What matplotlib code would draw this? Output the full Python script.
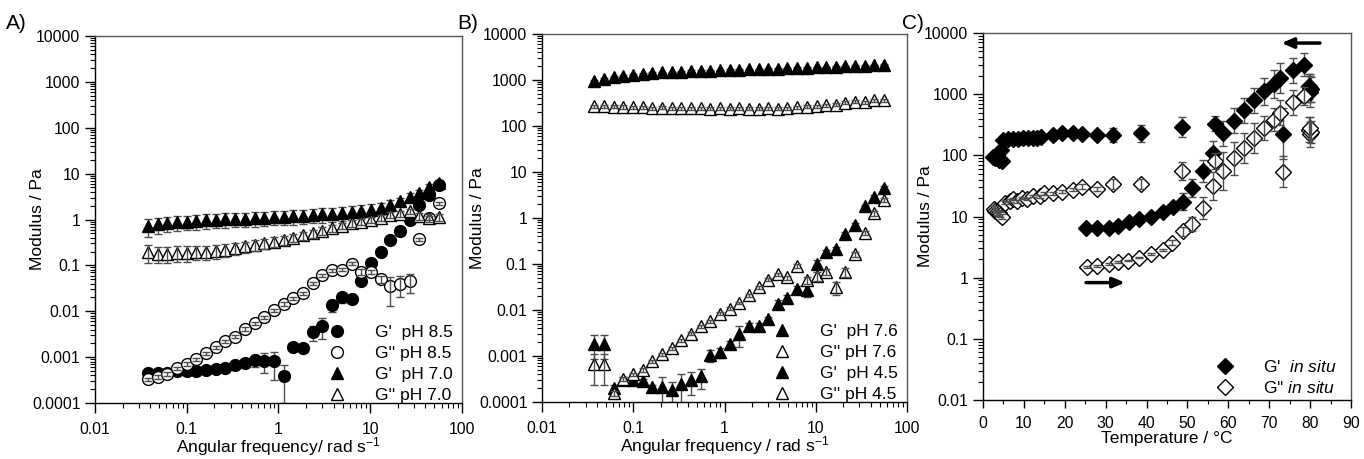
import numpy as np
import matplotlib
matplotlib.use("Agg")
import matplotlib.pyplot as plt
from matplotlib.ticker import LogLocator, FuncFormatter, NullFormatter, MultipleLocator

plt.rcParams['font.family'] = ['Liberation Sans', 'DejaVu Sans']
plt.rcParams['mathtext.fontset'] = 'custom'
plt.rcParams['mathtext.rm'] = 'Liberation Sans'
plt.rcParams['mathtext.it'] = 'Liberation Sans:italic'

# ---------------- data ----------------
freq = [0.0376, 0.048, 0.0612, 0.0781, 0.0996, 0.127, 0.162, 0.207, 0.264, 0.337, 0.429,
        0.548, 0.699, 0.892, 1.14, 1.45, 1.85, 2.36, 3.01, 3.84, 4.90, 6.25, 7.98, 10.2,
        13.0, 16.6, 21.1, 27.0, 34.4, 43.9, 56.0]

# Panel A
A_gp_85 = [4.5e-4, 4.5e-4, 4.6e-4, 4.9e-4, 5.0e-4, 5.1e-4, 5.3e-4, 5.6e-4, 5.75e-4, 6.8e-4, 7.4e-4,
           8.7e-4, 8.4e-4, 8.2e-4, 3.9e-4, 1.66e-3, 1.6e-3, 3.5e-3, 4.8e-3, 0.0138, 0.0203,
           0.0183, 0.045, 0.112, 0.20, 0.35, 0.56, 0.98, 2.1, 3.5, 5.6]
A_gp_85_err = [2e-5, 2e-5, 2e-5, 2e-5, 2e-5, 2e-5, 3e-5, 3e-5, 4e-5, 5e-5, 8e-5,
               2.5e-4, 3.8e-4, 5e-4, 2.9e-4, 2e-4, 2e-4, 1.2e-3, 2.3e-3, 4e-3, 5e-3,
               3e-3, 5e-3, 0.01, 0.015, 0.02, 0.03, 0.05, 0.1, 0.15, 0.2]
A_gpp_85 = [3.3e-4, 3.7e-4, 4.3e-4, 5.7e-4, 7.1e-4, 9.0e-4, 1.22e-3, 1.65e-3, 2.2e-3, 2.8e-3, 4.1e-3,
            5.5e-3, 7.4e-3, 0.0104, 0.0145, 0.0193, 0.0248, 0.041, 0.061, 0.079, 0.081,
            0.108, 0.073, 0.072, 0.05, 0.035, 0.04, 0.045, 0.37, 1.1, 2.26]
A_gpp_85_err = [2.5e-5, 3e-5, 3.5e-5, 4.5e-5, 6e-5, 7e-5, 1e-4, 1.3e-4, 1.8e-4, 2.2e-4, 3.3e-4,
                4.4e-4, 6e-4, 8e-4, 1.2e-3, 1.5e-3, 2e-3, 3e-3, 5e-3, 6e-3, 6e-3,
                8e-3, 0.01, 0.008, 0.008, 0.022, 0.02, 0.02, 0.03, 0.1, 0.15]
A_gp_70 = [0.72, 0.78, 0.83, 0.87, 0.90, 0.93, 0.96, 0.99, 1.01, 1.03, 1.05,
           1.08, 1.10, 1.13, 1.15, 1.18, 1.22, 1.26, 1.30, 1.35, 1.40,
           1.47, 1.55, 1.65, 1.8, 2.1, 2.5, 3.1, 3.7, 5.0, 6.3]
A_gp_70_err = [0.3, 0.3, 0.3, 0.3, 0.32, 0.33, 0.34, 0.35, 0.35, 0.36, 0.37,
               0.38, 0.38, 0.39, 0.4, 0.41, 0.42, 0.43, 0.44, 0.45, 0.46,
               0.47, 0.48, 0.5, 0.5, 0.5, 0.5, 0.6, 0.6, 0.8, 1.0]
A_gpp_70 = [0.20, 0.18, 0.18, 0.19, 0.19, 0.20, 0.20, 0.21, 0.22, 0.24, 0.26,
            0.28, 0.30, 0.33, 0.36, 0.40, 0.45, 0.50, 0.57, 0.65, 0.73,
            0.83, 0.90, 0.98, 1.1, 1.25, 1.35, 1.5, 1.2, 1.1, 1.15]
A_gpp_70_err = [0.085, 0.07, 0.07, 0.07, 0.07, 0.07, 0.07, 0.07, 0.07, 0.07, 0.07,
                0.07, 0.07, 0.08, 0.08, 0.08, 0.09, 0.1, 0.1, 0.11, 0.12,
                0.13, 0.14, 0.15, 0.16, 0.18, 0.2, 0.2, 0.2, 0.2, 0.2]

# Panel B
B_gp_76 = [930, 1050, 1160, 1230, 1300, 1360, 1410, 1460, 1480, 1510, 1560,
           1580, 1600, 1620, 1650, 1680, 1700, 1720, 1740, 1760, 1790,
           1820, 1850, 1880, 1910, 1950, 1990, 2020, 2060, 2100, 2140]
B_gp_76_err = [50, 50, 50, 50, 50, 50, 50, 50, 50, 50, 50,
               50, 50, 50, 50, 50, 50, 50, 50, 50, 50,
               50, 50, 50, 50, 50, 50, 50, 50, 50, 50]
B_gpp_76 = [270, 270, 262, 260, 258, 258, 245, 250, 245, 242, 245,
            242, 240, 242, 240, 242, 238, 240, 242, 240, 245,
            255, 265, 270, 280, 290, 320, 340, 330, 360, 365]
B_gpp_76_err = [20, 20, 20, 20, 20, 20, 20, 20, 20, 20, 20,
                20, 20, 20, 20, 20, 20, 20, 20, 20, 20,
                20, 20, 20, 20, 20, 25, 25, 25, 25, 25]
B_gp_45 = [1.85e-3, 1.85e-3, 2.04e-4, 2.95e-4, 2.95e-4, 2.9e-4, 2.1e-4, 2.15e-4, 1.85e-4, 2.5e-4, 2.95e-4,
           3.6e-4, 1.03e-3, 1.22e-3, 1.8e-3, 3.05e-3, 4.4e-3, 4.6e-3, 6.3e-3, 0.0138, 0.0178,
           0.029, 0.027, 0.102, 0.18, 0.21, 0.46, 0.72, 1.8, 2.9, 4.6]
B_gp_45_err = [1.0e-3, 1.0e-3, 3e-5, 5e-5, 5e-5, 3e-5, 3e-5, 1.3e-4, 8.5e-5, 1.6e-4, 1.5e-4,
               1.7e-4, 3e-4, 3e-4, 3e-4, 1.5e-3, 8e-4, 5e-4, 8e-4, 2.5e-3, 3e-3,
               5e-3, 8e-3, 0.02, 0.02, 0.02, 0.04, 0.06, 0.1, 0.2, 0.3]
B_gpp_45 = [6.8e-4, 6.8e-4, 1.55e-4, 3.2e-4, 4.0e-4, 5.0e-4, 7.6e-4, 1.08e-3, 1.48e-3, 2.2e-3, 3.05e-3,
            4.4e-3, 5.7e-3, 8.3e-3, 0.0107, 0.0142, 0.021, 0.031, 0.046, 0.06, 0.051,
            0.091, 0.045, 0.054, 0.068, 0.031, 0.068, 0.163, 0.48, 1.26, 2.46]
B_gpp_45_err = [4.5e-4, 4.5e-4, 2e-5, 3e-5, 3e-5, 4e-5, 5e-5, 8e-5, 1e-4, 1.5e-4, 2e-4,
                3e-4, 4e-4, 6e-4, 8e-4, 1e-3, 1.5e-3, 2e-3, 4e-3, 5e-3, 5e-3,
                1e-2, 8e-3, 0.012, 0.01, 0.01, 0.015, 0.02, 0.05, 0.15, 0.25]

# Panel C (temperature, modulus, multiplicative error factor)
C_T_gp = [2.5, 3.0, 3.5, 4.0, 4.3, 4.6, 5.0, 6.2, 7.4, 8.6, 9.9, 11.1, 12.3, 13.3, 14.3, 17.2,
          19.2, 22.1, 24.1, 27.8, 31.7, 38.6, 48.6, 56.7, 73.3,
          25.3, 27.8, 30.9, 33.1, 35.8, 38.2, 41.2, 44.1, 46.4, 48.8, 51.2, 53.7, 56.2,
          58.8, 61.4, 63.8, 66.3, 68.8, 71.2, 72.6, 75.9, 78.5,
          79.8, 79.9, 80.0, 80.1]
C_gp = [95, 90, 100, 85, 123, 80, 180, 183, 185, 187, 189, 192, 195, 195, 199, 217,
        229, 229, 224, 211, 217, 229, 295, 327, 225,
        6.5, 6.6, 6.5, 7.1, 8.2, 9.0, 10.0, 12.0, 14.2, 17.5, 29, 56, 109,
        231, 371, 541, 789, 1107, 1480, 1830, 2450, 3030,
        1350, 1260, 1100, 1200]
C_gp_fac = [1.1, 1.1, 1.15, 1.1, 1.15, 1.1, 1.05, 1.05, 1.05, 1.05, 1.05, 1.05, 1.05, 1.05, 1.05, 1.08,
            1.1, 1.12, 1.12, 1.15, 1.3, 1.38, 1.46, 1.32, 2.6,
            1.05, 1.05, 1.05, 1.05, 1.05, 1.06, 1.08, 1.12, 1.15, 1.37, 1.4, 1.5, 1.55,
            1.6, 1.6, 1.6, 1.6, 1.65, 1.7, 1.75, 1.6, 1.55,
            1.6, 1.7, 1.8, 1.6]
C_T_gpp = [2.6, 3.0, 3.4, 3.8, 4.2, 4.6, 5.4, 6.6, 7.4, 8.2, 9.5, 10.7, 12.3, 13.9, 14.8, 17.2,
           19.2, 22.1, 24.1, 27.8, 31.7, 38.6, 48.6, 56.7, 73.3,
           25.5, 27.8, 30.9, 33.1, 35.5, 38.2, 41.2, 43.9, 46.3, 48.8, 51.0, 53.7, 56.2,
           58.8, 61.4, 63.8, 66.3, 68.8, 71.2, 72.6, 75.9, 78.5,
           79.8, 80.0, 80.1, 79.9]
C_gpp = [13.5, 12.5, 11.8, 11.3, 10.6, 10.0, 16.9, 18.2, 19.2, 17.7, 20, 19.2, 21.7, 21.4, 24, 24,
         25.6, 27.2, 30.9, 28, 34.1, 34.1, 56, 80, 54,
         1.48, 1.55, 1.66, 1.79, 1.9, 2.12, 2.44, 2.84, 3.7, 5.7, 7.5, 13.7, 31.6,
         56, 90, 131, 192, 279, 382, 500, 733, 940,
         260, 220, 240, 280]
C_gpp_fac = [1.1, 1.1, 1.1, 1.1, 1.1, 1.1, 1.05, 1.05, 1.05, 1.05, 1.05, 1.05, 1.05, 1.05, 1.05, 1.05,
             1.05, 1.06, 1.1, 1.08, 1.2, 1.2, 1.4, 1.35, 1.78,
             1.03, 1.03, 1.03, 1.03, 1.03, 1.03, 1.04, 1.05, 1.1, 1.2, 1.3, 1.5, 1.7,
             2.05, 1.87, 1.76, 1.75, 1.55, 1.55, 1.6, 1.6, 1.4,
             1.6, 1.6, 1.5, 1.5]

# annotation arrows in panel C: (T_start, T_end, modulus)
ARROW_COOL = (82.4, 73.0, 6850)
ARROW_HEAT = (25.2, 34.7, 0.83)

# ---------------- figure ----------------
fig = plt.figure(figsize=(13.64, 4.59), dpi=100)
axA = fig.add_axes([95 / 1364, 1 - 403 / 459, 367 / 1364, 367 / 459])
axB = fig.add_axes([542 / 1364, 1 - 402 / 459, 365 / 1364, 368 / 459])
axC = fig.add_axes([983 / 1364, 1 - 400 / 459, 368 / 1364, 367 / 459])

ECOL = '#4d4d4d'
LABEL_FS = 12.5


def series(ax, x, y, yerr, marker, filled, label, ms):
    x = np.asarray(x, float)
    y = np.asarray(y, float)
    ax.errorbar(x, y, yerr=yerr, fmt='none', ecolor=ECOL, elinewidth=1.0,
                capsize=3, capthick=1.0, zorder=3 if not filled else 1.5)
    ax.plot(x, y, ls='none', marker=marker, ms=ms,
            mfc='black' if filled else 'white', mec='black', mew=1.0,
            zorder=2, label=label)


fmt = FuncFormatter(lambda v, p: '%g' % v)


def style_log_axes(ax, xlog=True):
    ax.set_yscale('log')
    ax.yaxis.set_major_locator(LogLocator(base=10, numticks=20))
    ax.yaxis.set_minor_locator(LogLocator(base=10, subs=np.arange(2, 10), numticks=100))
    ax.yaxis.set_major_formatter(fmt)
    ax.yaxis.set_minor_formatter(NullFormatter())
    if xlog:
        ax.set_xscale('log')
        ax.xaxis.set_major_locator(LogLocator(base=10, numticks=20))
        ax.xaxis.set_minor_locator(LogLocator(base=10, subs=np.arange(2, 10), numticks=100))
        ax.xaxis.set_major_formatter(fmt)
        ax.xaxis.set_minor_formatter(NullFormatter())
    ax.tick_params(which='major', direction='out', length=7.5, width=1.0, labelsize=11.3, pad=3)
    ax.tick_params(which='minor', direction='out', length=3.5, width=0.8)
    ax.tick_params(axis='x', which='major', pad=6)
    ax.tick_params(top=False, right=False, which='both')
    for s in ['top', 'right']:
        ax.spines[s].set_color('#555555')
    for s in ax.spines.values():
        s.set_linewidth(1.0)


# Panel A
series(axA, freq, A_gp_85, A_gp_85_err, 'o', True, "G'  pH 8.5", 8.5)
series(axA, freq, A_gpp_85, A_gpp_85_err, 'o', False, "G'' pH 8.5", 8.5)
series(axA, freq, A_gp_70, A_gp_70_err, '^', True, "G'  pH 7.0", 9)
series(axA, freq, A_gpp_70, A_gpp_70_err, '^', False, "G'' pH 7.0", 9)
style_log_axes(axA)
axA.set_xlim(0.01, 100)
axA.set_ylim(1e-4, 1e4)
axA.set_xlabel('Angular frequency/ rad s$^{-1}$', fontsize=LABEL_FS)
axA.set_ylabel('Modulus / Pa', fontsize=LABEL_FS)
axA.xaxis.set_label_coords(0.5, -0.088)
axA.yaxis.set_label_coords(-0.136, 0.5)

# Panel B
series(axB, freq, B_gp_76, B_gp_76_err, '^', True, "G'  pH 7.6", 9)
series(axB, freq, B_gpp_76, B_gpp_76_err, '^', False, "G'' pH 7.6", 9)
series(axB, freq, B_gp_45, B_gp_45_err, '^', True, "G'  pH 4.5", 9)
series(axB, freq, B_gpp_45, B_gpp_45_err, '^', False, "G'' pH 4.5", 9)
style_log_axes(axB)
axB.set_xlim(0.01, 100)
axB.set_ylim(1e-4, 1e4)
axB.set_xlabel('Angular frequency / rad s$^{-1}$', fontsize=LABEL_FS)
axB.set_ylabel('Modulus / Pa', fontsize=LABEL_FS)
axB.xaxis.set_label_coords(0.5, -0.088)
axB.yaxis.set_label_coords(-0.156, 0.5)

# Panel C
gp = np.asarray(C_gp, float)
gpf = np.asarray(C_gp_fac, float)
gpp = np.asarray(C_gpp, float)
gppf = np.asarray(C_gpp_fac, float)
series(axC, C_T_gp, gp, [gp - gp / gpf, gp * gpf - gp], 'D', True,
       "G'  $\\mathit{in\\ situ}$", 8)
series(axC, C_T_gpp, gpp, [gpp - gpp / gppf, gpp * gppf - gpp], 'D', False,
       "G'' $\\mathit{in\\ situ}$", 8)
style_log_axes(axC, xlog=False)
axC.set_xlim(0, 90)
axC.set_ylim(0.01, 10000)
axC.xaxis.set_major_locator(MultipleLocator(10))
axC.xaxis.set_minor_locator(MultipleLocator(5))
axC.tick_params(axis='x', which='major', length=5.5)
axC.tick_params(axis='x', which='minor', length=3)
axC.set_xlabel('Temperature / °C', fontsize=LABEL_FS)
axC.set_ylabel('Modulus / Pa', fontsize=LABEL_FS)
axC.xaxis.set_label_coords(0.5, -0.085)
axC.yaxis.set_label_coords(-0.136, 0.5)

for (t0, t1, yv) in [ARROW_COOL, ARROW_HEAT]:
    axC.annotate('', xy=(t1, yv), xytext=(t0, yv),
                 arrowprops=dict(arrowstyle='-|>,head_length=0.7,head_width=0.3',
                                 lw=2.5, color='black', shrinkA=0, shrinkB=0),
                 zorder=5)

# Legends
leg_kw = dict(frameon=False, numpoints=1, handlelength=1.0, handletextpad=1.7,
              labelspacing=0.33, borderpad=0.0, borderaxespad=0.0, fontsize=12.5,
              loc='lower right')
axA.legend(bbox_to_anchor=(0.975, 0.0), **leg_kw)
axB.legend(bbox_to_anchor=(0.975, 0.0), **leg_kw)
axC.legend(bbox_to_anchor=(0.962, 0.01), **leg_kw)

# Panel letters
fig.text(0.004, 0.948, 'A)', fontsize=15, va='center', ha='left')
fig.text(0.335, 0.948, 'B)', fontsize=15, va='center', ha='left')
fig.text(0.661, 0.948, 'C)', fontsize=15, va='center', ha='left')

fig.savefig('out.png', dpi=100)
